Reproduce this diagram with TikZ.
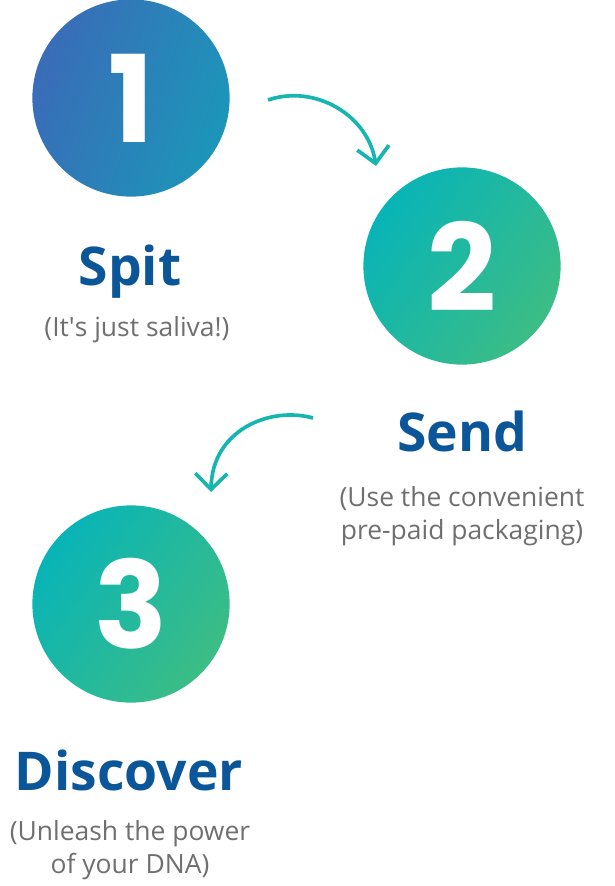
\documentclass[tikz,border=0pt]{standalone}
\usepackage{fontspec}
\setmainfont{Open Sans}
\newfontfamily\numfont{Poppins}
\usepackage{tikz}
\usetikzlibrary{arrows.meta,positioning}

\definecolor{stepblue}{HTML}{3A6CB8}
\definecolor{stepcyan}{HTML}{1C96B9}
\definecolor{stepteal}{HTML}{08B4B7}
\definecolor{stepgreen}{HTML}{3CBD85}
\definecolor{titleblue}{HTML}{0B5698}
\definecolor{notegray}{HTML}{6F6F6F}
\definecolor{arrowteal}{HTML}{14B6AF}

\begin{document}
\begin{tikzpicture}[
    x=0.025cm, y=-0.025cm,
    stepdot/.style={circle, inner sep=0pt, minimum size=4.93cm, text=white, font=\numfont\bfseries\fontsize{86}{86}\selectfont},
    firstdot/.style={stepdot, left color=stepblue, right color=stepcyan, shading angle=70},
    laterdot/.style={stepdot, left color=stepteal, right color=stepgreen, shading angle=55},
    title/.style={anchor=base, text=titleblue, font=\bfseries\fontsize{38}{38}\selectfont},
    note/.style={anchor=base, text=notegray, align=center, font=\fontsize{18.8}{23.3}\selectfont},
    flow/.style={-{Straight Barb[length=0.4cm, width=0.8cm]}, line width=2.6pt, draw=arrowteal}
]
    \useasboundingbox (0,0) rectangle (614,886);

    % --- STEPS ---
    \node[firstdot] (spitDot) at (131,98) {1};
    \node[laterdot] (sendDot) at (462,266) {2};
    \node[laterdot] (discoverDot) at (131,604) {3};

    % --- LABELS ---
    \node[title] (spitTitle) at (130,285) {Spit};
    \node[note] (spitNote) at (137,336) {(It\textquotesingle s just saliva!)};
    \node[title] (sendTitle) at (462,451) {Send};
    \node[note] (sendNote) at (462,539) {(Use the convenient\\pre-paid packaging)};
    \node[title] (discoverTitle) at (129,790) {Discover};
    \node[note] (discoverNote) at (130,873) {(Unleash the power\\of your DNA)};

    % --- ARROWS ---
    \coordinate (spitOut) at (268,100);
    \coordinate (sendIn) at (376,166);
    \coordinate (sendOut) at (313,418);
    \coordinate (discoverIn) at (211,492);
    \draw[flow] (spitOut) .. controls (315,84) and (368,115) .. (sendIn);
    \draw[flow] (sendOut) .. controls (270,406) and (212,430) .. (discoverIn);

\end{tikzpicture}
\end{document}
